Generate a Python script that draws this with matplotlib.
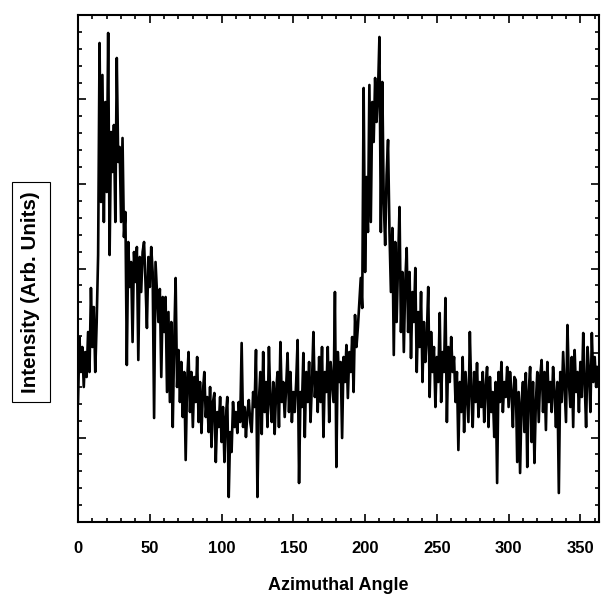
import numpy as np
import matplotlib
matplotlib.use("Agg")
import matplotlib.pyplot as plt
from matplotlib.ticker import MultipleLocator, NullFormatter

# azimuthal angle in degrees, one sample per degree
angle = np.arange(0, 363)

# intensity (arbitrary units)
intensity = [
    120, 185, 150, 175, 135, 170, 145, 190, 150, 234,
    175, 215, 150, 200, 267, 479, 320, 447, 300, 420,
    330, 489, 267, 390, 350, 397, 300, 464, 360, 375,
    300, 384, 285, 310, 157, 280, 235, 260, 180, 270,
    240, 275, 162, 265, 230, 270, 280, 240, 194, 265,
    235, 275, 250, 104, 260, 230, 200, 233, 145, 225,
    190, 225, 130, 210, 120, 200, 95, 180, 244, 135,
    172, 120, 160, 105, 150, 62, 140, 170, 110, 150,
    95, 145, 120, 165, 100, 140, 89, 130, 150, 105,
    125, 90, 135, 75, 120, 129, 60, 110, 95, 125,
    80, 115, 60, 105, 125, 25, 90, 70, 120, 95,
    110, 89, 120, 100, 179, 95, 115, 85, 110, 122,
    100, 90, 130, 115, 172, 25, 120, 150, 88, 170,
    110, 140, 95, 175, 120, 100, 140, 88, 130, 150,
    95, 180, 120, 140, 105, 135, 169, 110, 150, 100,
    130, 110, 140, 182, 39, 130, 115, 169, 85, 150,
    120, 160, 100, 140, 190, 125, 150, 110, 165, 120,
    175, 85, 150, 130, 175, 100, 160, 140, 120, 230,
    55, 170, 140, 160, 84, 165, 140, 177, 124, 170,
    150, 185, 130, 207, 175, 195, 220, 244, 214, 434,
    250, 345, 290, 437, 300, 420, 380, 444, 400, 430,
    485, 290, 440, 320, 277, 347, 382, 290, 230, 294,
    167, 280, 200, 260, 315, 190, 250, 170, 240, 274,
    190, 250, 164, 230, 200, 254, 150, 210, 175, 230,
    140, 200, 160, 185, 235, 125, 190, 150, 175, 115,
    165, 140, 209, 120, 170, 150, 224, 100, 175, 140,
    185, 150, 165, 120, 150, 72, 140, 110, 165, 90,
    150, 125, 100, 190, 130, 95, 150, 120, 159, 105,
    140, 115, 150, 100, 135, 155, 95, 145, 110, 130,
    85, 140, 39, 150, 120, 160, 110, 140, 125, 155,
    115, 150, 130, 95, 145, 142, 60, 130, 49, 120,
    140, 90, 149, 55, 130, 155, 80, 140, 59, 120,
    150, 100, 145, 162, 110, 150, 92, 160, 120, 140,
    110, 155, 130, 95, 140, 29, 150, 120, 170, 135,
    100, 197, 140, 115, 165, 95, 172, 130, 150, 110,
    160, 125, 189, 140, 95, 175, 150, 110, 189, 140,
    165, 135, 155,
]

x_ticks = [0, 50, 100, 150, 200, 250, 300, 350]

plt.rcParams["font.family"] = ["Liberation Sans", "DejaVu Sans"]

fig = plt.figure(figsize=(6.03, 5.99), dpi=100)
ax = fig.add_axes([0.1294, 0.1285, 0.864, 0.8465])

ax.plot(angle, intensity, color="black", lw=1.9)

ax.set_xlim(0, 363)
ax.set_ylim(0, 507)
ax.set_xticks(x_ticks)
ax.xaxis.set_minor_locator(MultipleLocator(10))
ax.yaxis.set_major_locator(MultipleLocator(84.5))
ax.yaxis.set_minor_locator(MultipleLocator(16.9))
ax.yaxis.set_major_formatter(NullFormatter())
ax.tick_params(which="both", direction="in", top=True, right=True, width=1.2)
ax.tick_params(which="major", length=6)
ax.tick_params(which="minor", length=3)
ax.tick_params(axis="x", labelsize=12, pad=14)
for lbl in ax.get_xticklabels():
    lbl.set_fontweight("bold")
for s in ax.spines.values():
    s.set_linewidth(1.5)

ax.set_xlabel("Azimuthal Angle", fontsize=13, fontweight="bold", labelpad=15)

fig.text(0.051, 0.512, "Intensity (Arb. Units)", rotation=90, ha="center",
         va="center", fontsize=14.8, fontweight="bold",
         bbox=dict(boxstyle="square,pad=0.45", fc="white", ec="black", lw=0.8))

fig.savefig("out.png", dpi=100)
